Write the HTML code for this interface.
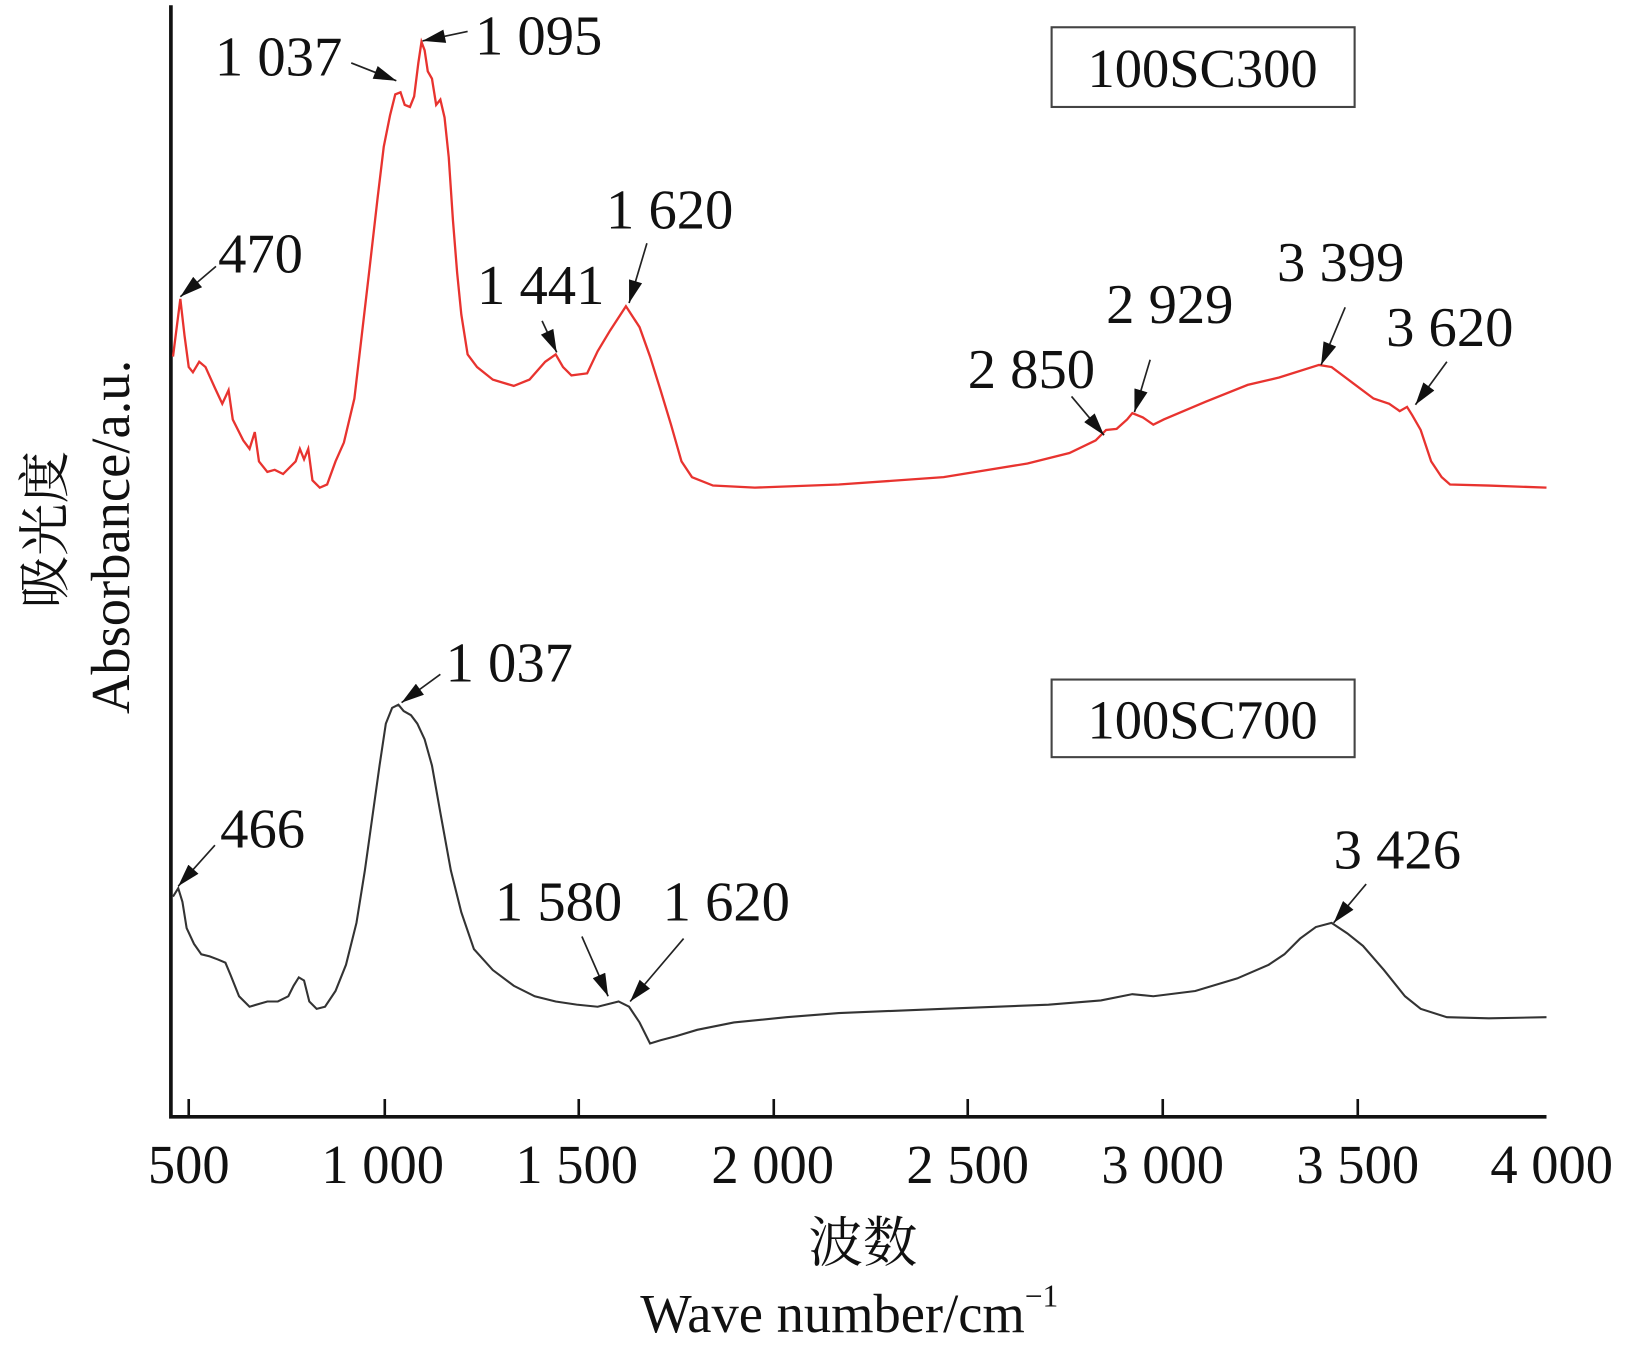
<!DOCTYPE html>
<html><head><meta charset="utf-8"><style>
html,body{margin:0;padding:0;background:#fff;}
svg{display:block;}
text{font-family:"Liberation Serif","Noto Serif CJK SC",serif;fill:#111;}
</style></head><body>
<svg width="1644" height="1357" viewBox="0 0 1568 1294" preserveAspectRatio="none" xmlns="http://www.w3.org/2000/svg">
<defs>
<marker id="ah" viewBox="0 0 10 10" refX="10" refY="5" markerWidth="6" markerHeight="6" orient="auto" markerUnits="userSpaceOnUse">
</marker>
<marker id="a" viewBox="0 0 20 12" refX="20" refY="6" markerWidth="22" markerHeight="13" orient="auto" markerUnits="userSpaceOnUse"><path d="M0,0 L20,6 L0,12 Z" fill="#111"/></marker>
</defs>
<!-- axes -->
<path d="M163,5 L163,1065 L1475,1065" fill="none" stroke="#111" stroke-width="3.5"/>
<g stroke="#111" stroke-width="2.5">
<line x1="180" y1="1065" x2="180" y2="1048"/><line x1="367" y1="1065" x2="367" y2="1048"/>
<line x1="552" y1="1065" x2="552" y2="1048"/><line x1="738" y1="1065" x2="738" y2="1048"/>
<line x1="923" y1="1065" x2="923" y2="1048"/><line x1="1109" y1="1065" x2="1109" y2="1048"/>
<line x1="1295" y1="1065" x2="1295" y2="1048"/>
</g>
<g font-size="52" text-anchor="middle">
<text x="180" y="1128">500</text><text x="365" y="1128">1 000</text><text x="550" y="1128">1 500</text>
<text x="737" y="1128">2 000</text><text x="923" y="1128">2 500</text><text x="1109" y="1128">3 000</text>
<text x="1295" y="1128">3 500</text><text x="1480" y="1128">4 000</text>
</g>
<text x="823" y="1203" font-size="52" text-anchor="middle">波数</text>
<text x="810" y="1270" font-size="52" text-anchor="middle">Wave number/cm<tspan font-size="30" dy="-24">−1</tspan></text>
<text transform="translate(60,505) rotate(-90)" font-size="50" text-anchor="middle">吸光度</text>
<text transform="translate(123,512) rotate(-90)" font-size="52" text-anchor="middle">Absorbance/a.u.</text>
<!-- legend boxes -->
<rect x="1003" y="26" width="289" height="76" fill="none" stroke="#444" stroke-width="2"/>
<text x="1147" y="83" font-size="52" text-anchor="middle">100SC300</text>
<rect x="1003" y="648" width="289" height="74" fill="none" stroke="#444" stroke-width="2"/>
<text x="1147" y="704" font-size="52" text-anchor="middle">100SC700</text>
<!-- red curve -->
<polyline fill="none" stroke="#e8332f" stroke-width="2.2" points="165,340 172,285 176,320 180,350 184,355 190,345 196,350 205,370 212,385 218,372 222,400 232,420 238,428 243,412 247,440 255,450 262,448 270,452 282,440 286,428 290,438 294,428 298,458 305,465 312,462 320,440 328,422 338,380 345,320 352,260 360,190 366,140 372,110 377,90 382,88 386,100 391,102 395,92 399,60 402,40 405,48 408,68 412,75 416,100 420,95 424,112 428,150 432,210 436,260 440,300 446,338 455,350 470,362 490,368 505,362 520,345 530,338 537,350 545,358 560,356 570,335 582,315 597,292 610,312 620,340 630,372 640,405 650,440 660,455 680,463 720,465 800,462 900,455 980,442 1020,432 1045,420 1055,410 1065,409 1075,400 1080,394 1090,398 1100,405 1110,400 1150,383 1190,367 1220,360 1258,348 1270,350 1290,365 1310,380 1325,385 1335,392 1342,388 1347,396 1355,410 1365,440 1375,455 1383,462 1420,463 1475,465"/>
<!-- black curve -->
<polyline fill="none" stroke="#333" stroke-width="2" points="165,855 170,847 174,860 178,885 185,900 192,910 200,912 208,915 215,918 220,930 228,950 238,960 248,957 255,955 265,955 275,950 280,940 285,932 290,935 295,955 302,962 310,960 320,945 330,920 340,880 348,830 355,780 362,730 368,690 374,675 380,672 385,678 392,682 398,690 405,705 412,730 420,775 430,830 440,870 452,905 470,925 490,940 510,950 530,955 550,958 570,960 590,955 600,960 610,975 620,995 630,992 645,988 665,982 700,975 750,970 800,966 900,962 1000,958 1050,954 1080,948 1100,950 1140,945 1180,933 1210,920 1225,910 1240,895 1255,884 1270,880 1285,890 1300,902 1320,925 1340,950 1355,962 1380,970 1420,971 1475,970"/>
<!-- annotations -->
<g font-size="54">
<text x="205" y="72">1 037</text><text x="453" y="52">1 095</text>
<text x="208" y="260">470</text><text x="455" y="290">1 441</text>
<text x="578" y="218">1 620</text><text x="923" y="370">2 850</text>
<text x="1055" y="308">2 929</text><text x="1218" y="268">3 399</text>
<text x="1322" y="330">3 620</text>
<text x="425" y="650">1 037</text><text x="210" y="808">466</text>
<text x="472" y="878">1 580</text><text x="632" y="878">1 620</text>
<text x="1272" y="828">3 426</text>
</g>
<g stroke="#222" stroke-width="1.6" marker-end="url(#a)">
<line x1="335" y1="60" x2="378" y2="77"/><line x1="446" y1="30" x2="403" y2="39"/>
<line x1="206" y1="254" x2="172" y2="283"/><line x1="517" y1="306" x2="531" y2="336"/>
<line x1="617" y1="232" x2="600" y2="289"/><line x1="1022" y1="378" x2="1053" y2="415"/>
<line x1="1097" y1="343" x2="1082" y2="393"/><line x1="1283" y1="293" x2="1260" y2="348"/>
<line x1="1380" y1="345" x2="1350" y2="386"/>
<line x1="420" y1="643" x2="383" y2="670"/><line x1="205" y1="806" x2="170" y2="845"/>
<line x1="555" y1="893" x2="580" y2="950"/><line x1="652" y1="895" x2="601" y2="955"/>
<line x1="1303" y1="843" x2="1272" y2="880"/>
</g>
</svg>
</body></html>
